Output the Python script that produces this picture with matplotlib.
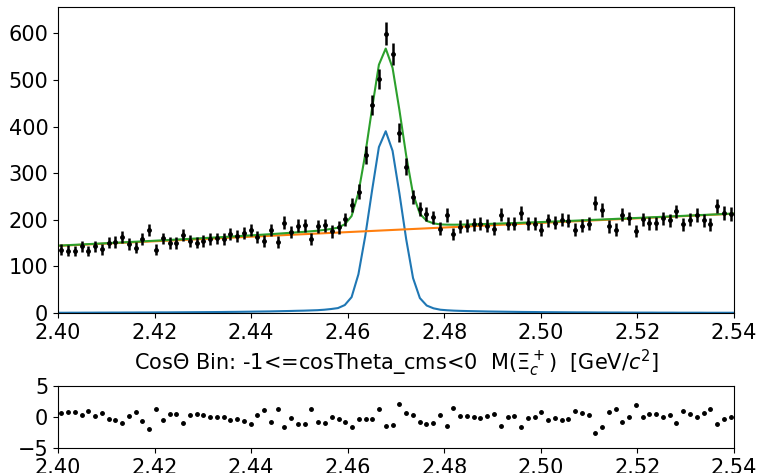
import matplotlib
matplotlib.use("Agg")
import matplotlib.pyplot as plt
import numpy as np

# M(Xi_c+) fit, one cos(theta) bin: data, total fit, signal, background and pulls
x_lo, x_hi = 2.40, 2.54
n_bins = 100

counts = [136, 134, 133, 143, 133, 143, 137, 151, 152, 163,
          148, 140, 158, 178, 136, 160, 150, 150, 167, 154,
          151, 155, 158, 160, 158, 169, 165, 172, 178, 163,
          155, 178, 152, 194, 173, 187, 188, 158, 186, 188,
          175, 184, 201, 231, 260, 339, 446, 502, 599, 556,
          387, 314, 249, 224, 213, 205, 181, 210, 170, 185,
          187, 190, 192, 187, 181, 211, 192, 192, 215, 193,
          192, 179, 199, 194, 200, 198, 179, 187, 192, 236,
          221, 186, 179, 211, 203, 176, 201, 193, 193, 203,
          199, 218, 190, 200, 210, 199, 190, 229, 215, 212]

# signal pdf evaluated on the curve grid
signal = [0.5, 0.5, 0.6, 0.6, 0.7, 0.7, 0.8, 0.8, 0.9, 0.9,
          1.0, 1.0, 1.1, 1.1, 1.2, 1.3, 1.3, 1.4, 1.5, 1.6,
          1.7, 1.8, 1.9, 2.0, 2.1, 2.3, 2.4, 2.6, 2.8, 3.0,
          3.2, 3.4, 3.7, 4.0, 4.3, 4.7, 5.0, 5.5, 6.0, 7.0,
          8.5, 10.5, 17.0, 34.0, 83.0, 165.0, 263.0, 356.0, 390.0, 348.0,
          257.0, 158.0, 75.0, 32.0, 16.0, 10.0, 7.0, 5.8, 5.0, 4.5,
          4.1, 3.8, 3.5, 3.2, 3.0, 2.8, 2.6, 2.4, 2.2, 2.1,
          2.0, 1.8, 1.7, 1.6, 1.5, 1.4, 1.3, 1.3, 1.2, 1.1,
          1.1, 1.0, 1.0, 0.9, 0.9, 0.8, 0.8, 0.8, 0.7, 0.7,
          0.7, 0.6, 0.6, 0.6, 0.6, 0.5, 0.5, 0.5, 0.5, 0.5]

# linear background, value at each end of the range
bkg_ends = [144, 213]

pulls = [0.69, 0.85, 0.85, 0.27, 1.0, 0.21, 0.69, -0.27, -0.43, -0.9,
         0.21, 0.85, -0.64, -1.9, 1.33, -0.48, 0.43, 0.43, -0.9, 0.27,
         0.53, 0.27, 0.05, -0.05, 0.05, -0.53, -0.27, -0.59, -1.06, 0.27,
         1.06, -0.74, 1.22, -1.6, -0.1, -1.06, -1.06, 1.22, -0.74, -0.9,
         0.05, -0.27, -0.74, -1.54, -0.27, -0.27, -0.27, 1.33, -1.44, -1.22,
         2.13, 0.69, 0.37, -0.8, -1.06, -0.9, 0.37, -1.44, 1.49, 0.21,
         0.21, 0.0, -0.1, 0.21, 0.53, -1.44, 0.0, 0.21, -1.6, -0.1,
         0.05, 0.85, -0.48, -0.16, -0.48, -0.32, 1.0, 0.69, 0.37, -2.55,
         -1.6, 0.85, 1.33, -0.8, 0.05, 1.86, 0.05, 0.53, 0.53, 0.05,
         0.37, -0.9, 1.0, 0.53, 0.05, 0.69, 1.33, -1.06, -0.27, 0.05]

edges = np.linspace(x_lo, x_hi, n_bins + 1)
centers = 0.5 * (edges[:-1] + edges[1:])
x_curve = np.linspace(x_lo, x_hi, n_bins)

counts = np.array(counts, dtype=float)
sig = np.array(signal)
bkg = np.interp(x_curve, [x_lo, x_hi], bkg_ends)
total = sig + bkg

plt.rcParams['font.size'] = 15

fig = plt.figure(figsize=(7.59, 4.73), dpi=100)
ax = fig.add_axes([0.0764, 0.3383, 0.8906, 0.6463])
pull_ax = fig.add_axes([0.0764, 0.0522, 0.8906, 0.1324])

xticks = np.arange(2.40, 2.5401, 0.02)
xticklabels = [f"{t:.2f}" for t in xticks]

ax.plot(x_curve, sig, color='tab:blue', lw=1.5)
ax.plot(x_curve, bkg, color='tab:orange', lw=1.5)
ax.plot(x_curve, total, color='tab:green', lw=1.5)
ax.errorbar(centers, counts, yerr=np.sqrt(counts), fmt='.', color='black',
            markersize=5, elinewidth=1.8, capsize=0)
ax.set_xlim(x_lo, x_hi)
ax.set_ylim(0, 656)
ax.set_yticks([0, 100, 200, 300, 400, 500, 600])
ax.set_xticks(xticks)
ax.set_xticklabels(xticklabels)
ax.set_xlabel(r"CosΘ Bin: -1<=cosTheta_cms<0  M($\Xi_c^+$)  [GeV/$c^2$]", labelpad=4)

pull_ax.plot(centers, pulls, '.', color='black', markersize=5)
pull_ax.set_xlim(x_lo, x_hi)
pull_ax.set_ylim(-5, 5)
pull_ax.set_yticks([-5, 0, 5])
pull_ax.set_xticks(xticks)
pull_ax.set_xticklabels(xticklabels)

fig.savefig("out.png", dpi=100)
